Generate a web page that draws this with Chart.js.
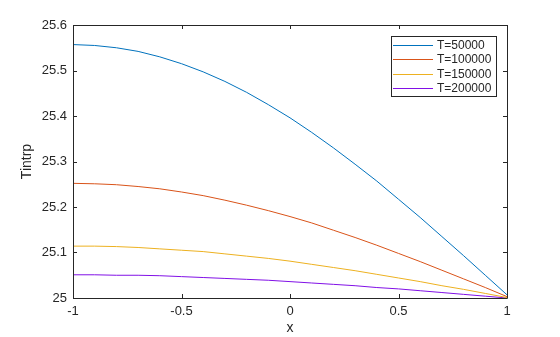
<!DOCTYPE html>
<html>
<head>
<meta charset="utf-8">
<script src="https://cdn.jsdelivr.net/npm/chart.js@4"></script>
<style>
  html, body { margin: 0; padding: 0; background: #fff; }
  #wrap { width: 560px; height: 337px; }
</style>
</head>
<body>
<div id="wrap"><canvas id="tChart" width="560" height="337"></canvas></div>
<script>
// ================================
// Data
// ================================
const xValues = [-1, -0.9, -0.8, -0.7, -0.6, -0.5, -0.4, -0.3, -0.2, -0.1, 0,
                 0.1, 0.2, 0.3, 0.4, 0.5, 0.6, 0.7, 0.8, 0.9, 1];

const seriesNames = ['T=50000', 'T=100000', 'T=150000', 'T=200000'];

const t50000 = [25.557, 25.555, 25.550, 25.542, 25.530, 25.515, 25.497, 25.476, 25.452, 25.425, 25.396,
                25.364, 25.330, 25.294, 25.257, 25.217, 25.177, 25.135, 25.093, 25.050, 25.007];
const t100000 = [25.252, 25.251, 25.249, 25.245, 25.240, 25.233, 25.225, 25.215, 25.204, 25.192, 25.179,
                 25.165, 25.149, 25.133, 25.116, 25.098, 25.080, 25.061, 25.042, 25.023, 25.003];
const t150000 = [25.114, 25.114, 25.113, 25.111, 25.108, 25.105, 25.102, 25.097, 25.092, 25.087, 25.081,
                 25.074, 25.067, 25.060, 25.052, 25.044, 25.036, 25.027, 25.019, 25.010, 25.001];
const t200000 = [25.051, 25.051, 25.050, 25.050, 25.049, 25.047, 25.045, 25.043, 25.041, 25.039, 25.036,
                 25.033, 25.030, 25.027, 25.023, 25.020, 25.016, 25.012, 25.008, 25.004, 25.000];

const xTickValues = [-1, -0.5, 0, 0.5, 1];
const xTickLabels = ['-1', '-0.5', '0', '0.5', '1'];
const yTickValues = [25, 25.1, 25.2, 25.3, 25.4, 25.5, 25.6];
const yTickLabels = ['25', '25.1', '25.2', '25.3', '25.4', '25.5', '25.6'];

const lineColors = ['#0072BD', '#D95319', '#EDB120', '#8110E6'];
const axisColor = '#262626';
const fontFamily = '"Liberation Sans", Arial, sans-serif';

// ================================
// Box + inward ticks (MATLAB look)
// ================================
const boxPlugin = {
    id: 'boxPlugin',
    afterDatasetsDraw(chart) {
        const ctx = chart.ctx;
        const a = chart.chartArea;
        const xs = chart.scales.x;
        const ys = chart.scales.y;
        const len = 4;

        ctx.save();
        ctx.strokeStyle = axisColor;
        ctx.lineWidth = 1;
        ctx.beginPath();
        ctx.rect(Math.round(a.left) + 0.5, Math.round(a.top) + 0.5,
                 Math.round(a.right - a.left), Math.round(a.bottom - a.top));

        xTickValues.forEach(v => {
            const px = Math.round(xs.getPixelForValue(v)) + 0.5;
            ctx.moveTo(px, a.bottom);
            ctx.lineTo(px, a.bottom - len);
            ctx.moveTo(px, a.top);
            ctx.lineTo(px, a.top + len);
        });
        yTickValues.forEach(v => {
            const py = Math.round(ys.getPixelForValue(v)) + 0.5;
            ctx.moveTo(a.left, py);
            ctx.lineTo(a.left + len, py);
            ctx.moveTo(a.right, py);
            ctx.lineTo(a.right - len, py);
        });
        ctx.stroke();
        ctx.restore();
    }
};

// ================================
// Legend box, top right inside axes
// ================================
const legendPlugin = {
    id: 'legendPlugin',
    afterDraw(chart) {
        const ctx = chart.ctx;
        const a = chart.chartArea;
        const w = 105, h = 60;
        const left = Math.round(a.right - 11 - w);
        const top = Math.round(a.top + 11);

        ctx.save();
        ctx.fillStyle = '#fff';
        ctx.fillRect(left, top, w, h);
        ctx.strokeStyle = axisColor;
        ctx.lineWidth = 1;
        ctx.strokeRect(left + 0.5, top + 0.5, w, h);

        ctx.font = '12px ' + fontFamily;
        ctx.textBaseline = 'middle';
        chart.data.datasets.forEach((ds, i) => {
            const y = Math.round(top + 8.5 + i * 14.5) + 0.5;
            ctx.strokeStyle = ds.borderColor;
            ctx.beginPath();
            ctx.moveTo(left + 2, y);
            ctx.lineTo(left + 42, y);
            ctx.stroke();
            ctx.fillStyle = axisColor;
            ctx.fillText(ds.label, left + 46, y);
        });
        ctx.restore();
    }
};

// ================================
// Chart
// ================================
function makeSeries(values) {
    return xValues.map((x, i) => ({ x: x, y: values[i] }));
}

function loadChart() {
    const ctx = document.getElementById('tChart');
    const allSeries = [t50000, t100000, t150000, t200000];

    new Chart(ctx, {
        type: 'line',
        data: {
            datasets: allSeries.map((s, i) => ({
                label: seriesNames[i],
                data: makeSeries(s),
                borderColor: lineColors[i],
                borderWidth: 1,
                pointRadius: 0,
                tension: 0,
                fill: false
            }))
        },
        plugins: [boxPlugin, legendPlugin],
        options: {
            responsive: false,
            animation: false,
            devicePixelRatio: 1,
            layout: { padding: { left: 0, top: 25, right: 53, bottom: 0 } },
            plugins: {
                legend: { display: false },
                tooltip: { enabled: false }
            },
            scales: {
                x: {
                    type: 'linear',
                    min: -1,
                    max: 1,
                    afterBuildTicks: s => { s.ticks = xTickValues.map(v => ({ value: v })); },
                    afterFit: s => { s.height = 39; },
                    grid: { display: false, drawTicks: false },
                    border: { display: false },
                    ticks: {
                        color: axisColor,
                        font: { family: fontFamily, size: 13 },
                        padding: 6,
                        maxRotation: 0,
                        callback: (v, i) => xTickLabels[i]
                    },
                    title: {
                        display: true,
                        text: 'x',
                        color: axisColor,
                        font: { family: fontFamily, size: 14 },
                        padding: { top: 2, bottom: 0 }
                    }
                },
                y: {
                    min: 25,
                    max: 25.6,
                    afterBuildTicks: s => { s.ticks = yTickValues.map(v => ({ value: v })); },
                    afterFit: s => { s.width = 73; },
                    grid: { display: false, drawTicks: false },
                    border: { display: false },
                    ticks: {
                        color: axisColor,
                        font: { family: fontFamily, size: 13 },
                        padding: 6,
                        callback: (v, i) => yTickLabels[i]
                    },
                    title: {
                        display: true,
                        text: 'Tintrp',
                        color: axisColor,
                        font: { family: fontFamily, size: 14 },
                        padding: { top: 19, bottom: 0 }
                    }
                }
            }
        }
    });
}

document.addEventListener('DOMContentLoaded', loadChart);
</script>
</body>
</html>
